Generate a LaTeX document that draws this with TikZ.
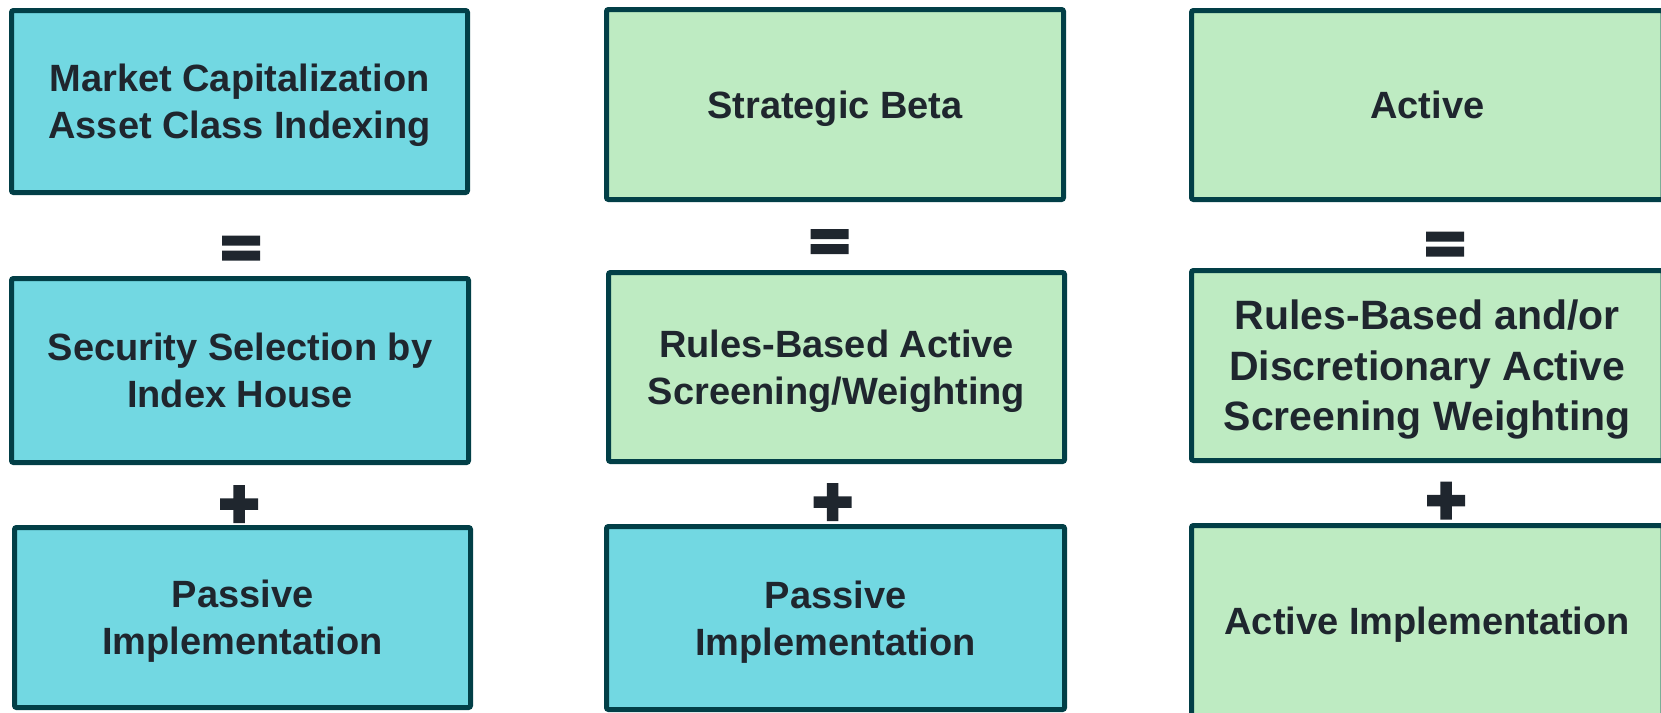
\documentclass[tikz,border=0pt]{standalone}
\usepackage{fontspec}
\setmainfont{Liberation Sans}
\definecolor{boxcyan}{RGB}{114,216,226}
\definecolor{boxgreen}{RGB}{190,235,194}
\definecolor{edgec}{RGB}{2,63,71}
\definecolor{ink}{RGB}{31,38,46}
\newcommand\lsa{\rule[-9pt]{0pt}{45.2pt}}
\newcommand\lsb{\rule[-9pt]{0pt}{47.4pt}}
\tikzset{
  card/.style={draw=edgec, line width=5pt, rounded corners=2pt, inner sep=0pt,
    align=center, text=ink, font=\fontsize{38}{47}\selectfont\bfseries},
  cyancard/.style={card, fill=boxcyan},
  greencard/.style={card, fill=boxgreen},
  eqmark/.pic={\fill[ink] (-19,-12.5) rectangle (19,-2.5) (-19,2.5) rectangle (19,12.5);},
  plusmark/.pic={\fill[ink] (-19,-5.75) rectangle (19,5.75) (-5.75,-19) rectangle (5.75,19);}
}
\begin{document}
\begin{tikzpicture}[x=1pt,y=-1pt]
\useasboundingbox (0,0) rectangle (1661,712);
\clip (0,0) rectangle (1661,712);
% left column
\node[cyancard, minimum width=456pt, minimum height=182pt] (A1) at (239.5,101.5)
  {\lsa Market Capitalization\\\lsa Asset Class Indexing};
\node[cyancard, minimum width=457pt, minimum height=184pt] (A2) at (240,370.5)
  {\lsa Security Selection by\\\lsa Index House};
\node[cyancard, minimum width=456pt, minimum height=180pt] (A3) at (242.5,617.5)
  {\lsa Passive\\\lsa Implementation};
% middle column
\node[greencard, minimum width=457pt, minimum height=190pt] (B1) at (835,104.5)
  {\lsa Strategic Beta};
\node[greencard, minimum width=456pt, minimum height=189pt] (B2) at (836.5,367)
  {\lsa Rules-Based Active\\\lsa Screening/Weighting};
\node[cyancard, minimum width=458pt, minimum height=183pt] (B3) at (835.5,618)
  {\lsa Passive\\\lsa Implementation};
% right column
\node[greencard, minimum width=471.5pt, minimum height=189pt] (C1) at (1427.25,105)
  {\lsa Active};
\node[greencard, minimum width=471.5pt, minimum height=190pt, font=\fontsize{41}{50.5}\selectfont\bfseries] (C2) at (1427.25,365.5)
  {\lsb Rules-Based and/or\\\lsb Discretionary Active\\\lsb Screening Weighting};
\node[greencard, minimum width=471.5pt, minimum height=190.5pt] (C3) at (1427.25,620.75)
  {\lsa Active Implementation};
% operators
\coordinate (eqA) at (241,248);
\coordinate (eqB) at (829.5,241.5);
\coordinate (eqC) at (1445,244);
\coordinate (plA) at (239,504);
\coordinate (plB) at (832.5,502);
\coordinate (plC) at (1446,500.5);
\pic at (eqA) {eqmark};
\pic at (eqB) {eqmark};
\pic at (eqC) {eqmark};
\pic at (plA) {plusmark};
\pic at (plB) {plusmark};
\pic at (plC) {plusmark};
\end{tikzpicture}
\end{document}
